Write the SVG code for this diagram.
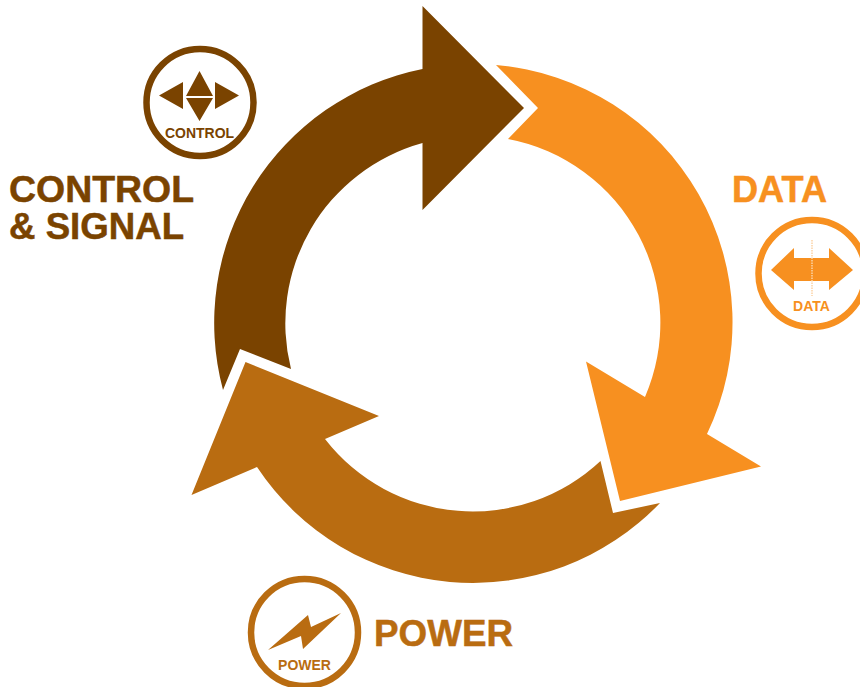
<svg xmlns="http://www.w3.org/2000/svg" width="860" height="687" viewBox="0 0 860 687">
<style>
text{font-family:"Liberation Sans",Arial,sans-serif;font-weight:700}
.b{fill:#7a4300}.o{fill:#f79020}.p{fill:#b96c11}
.big{font-size:37px;stroke-width:.5}.small{font-size:14px}
.ring{fill:#fff;stroke-width:6.500}
</style>
<rect width="860" height="687" fill="#fff"/>
<g id="connectors">
<path id="arc-control" class="b" d="M223 390A259 259 0 0 1 422.500 69V6L524 108L422.500 210V143A187 187 0 0 0 291 369L240 349Z"/>
<path id="arc-data" class="o" d="M496 65A258 258 0 0 1 707 434L761 466.500L620 501L586 361.500L645 397A187 187 0 0 0 508 139L538 108Z"/>
<path id="arc-power" class="p" d="M660 503A259 259 0 0 1 257 467L191.500 495L245.500 362L379 416L325 439A187 187 0 0 0 600.500 461L613 513Z"/>
</g>
<g id="node-control">
<circle class="ring" cx="200" cy="102.500" r="53.500" stroke="#7a4300"/>
<path class="b" d="M159 95.500L183 82V109ZM239 95.500L215 82V109ZM186 96L199.500 71L213 96ZM186 98H213L199.500 121Z"/>
<text class="b small" x="199.500" y="138" text-anchor="middle">CONTROL</text>
<text class="b big" stroke="#7a4300" x="9" y="201.500" textLength="185" lengthAdjust="spacingAndGlyphs">CONTROL</text>
<text class="b big" stroke="#7a4300" x="9" y="238.500" textLength="175" lengthAdjust="spacingAndGlyphs">&amp; SIGNAL</text>
</g>
<g id="node-data">
<circle class="ring" cx="812" cy="273.500" r="53.500" stroke="#f79020"/>
<path class="o" d="M771 270L794 248V258H829V248L853 270L829 290V281H794V290Z"/>
<path d="M812 240V296" stroke="#fcd3a5" stroke-width="1.500" stroke-dasharray="1.500 1" fill="none"/>
<text class="o small" x="811.500" y="311" text-anchor="middle">DATA</text>
<text class="o big" stroke="#f79020" x="732" y="201.500" textLength="95" lengthAdjust="spacingAndGlyphs">DATA</text>
</g>
<g id="node-power">
<circle class="ring" cx="304.500" cy="632.500" r="53.500" stroke="#b96c11"/>
<path class="p" d="M268 650L308 615L311 627L341 613L303 649L301 636Z"/>
<text class="p small" x="304.500" y="670" text-anchor="middle">POWER</text>
<text class="p big" stroke="#b96c11" x="374" y="645.500" textLength="139" lengthAdjust="spacingAndGlyphs">POWER</text>
</g>
</svg>
